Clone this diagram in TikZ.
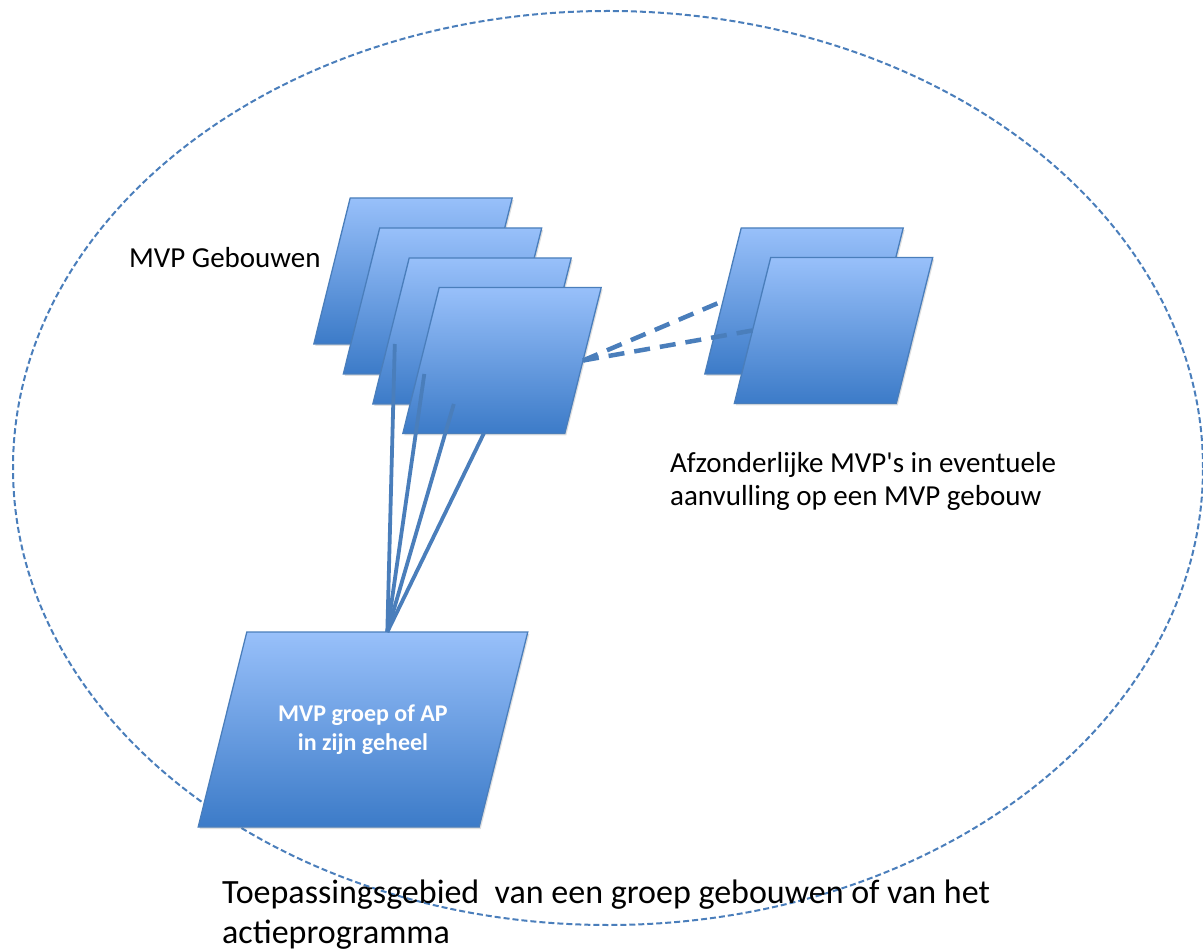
\documentclass[tikz,border=0pt]{standalone}
\usepackage{fontspec}
\setmainfont{Carlito}
\usetikzlibrary{shapes.geometric,shadows}
\definecolor{edge}{RGB}{74,126,187}
\definecolor{topc}{RGB}{152,192,250}
\definecolor{botc}{RGB}{60,123,200}
\tikzset{
  plate/.style={trapezium, trapezium left angle=76, trapezium right angle=104,
    trapezium stretches=false, minimum width=0pt, minimum height=0pt,
    inner xsep=62.8pt, inner ysep=73pt, outer sep=0pt, draw=edge, line width=1.3pt,
    top color=topc, bottom color=botc,
    drop shadow={opacity=0.25, shadow xshift=1.5pt, shadow yshift=-2pt}},
  bigplate/.style={plate, inner xsep=116.2pt, inner ysep=97.5pt},
  link/.style={draw=edge, line width=3.8pt},
  dlink/.style={draw=edge, line width=4.5pt, dash pattern=on 16pt off 10pt},
  scope/.style={draw=edge, line width=2pt, dash pattern=on 6pt off 3pt},
  lbl/.style={inner sep=0pt, text=black}
}
\begin{document}
\begin{tikzpicture}[x=1pt, y=-1pt]
\useasboundingbox (0,0) rectangle (1203,949);
\draw[scope] (608,468) ellipse [x radius=595pt, y radius=457pt];

\node[plate] (p1) at (413,271) {};
\node[plate] (p2) at (442.5,301) {};
\node[plate] (p3) at (472,331) {};
\node[plate] (p4) at (502,360.5) {};

\node[plate] (p5) at (804,301) {};
\node[plate] (p6) at (833.5,330.5) {};

\node[bigplate] (p0) at (363,729.5) {};
\node[lbl, text=white, font=\fontsize{24}{29}\selectfont\bfseries, align=center] (p0t) at (p0.center) {MVP groep of AP\\in zijn geheel};

\draw[link] (p0.top side) -- (p1.bottom side);
\draw[link] (p0.top side) -- (p2.bottom side);
\draw[link] (p0.top side) -- (p3.bottom side);
\draw[link] (p0.top side) -- (p4.bottom side);

\draw[dlink] (p4.right side) -- (p5.left side);
\draw[dlink] (p4.right side) -- (p6.left side);

\node[lbl, font=\fontsize{29}{34}\selectfont, anchor=base west] (ta) at (129,268) {MVP Gebouwen};
\node[lbl, font=\fontsize{29}{33}\selectfont, anchor=north west, align=left] (tb) at (670,452) {Afzonderlijke MVP\textquotesingle s in eventuele\\aanvulling op een MVP gebouw};
\node[lbl, font=\fontsize{34}{40}\selectfont, anchor=north west, align=left] (tc) at (222,880) {Toepassingsgebied\ \ van een groep gebouwen of van het\\actieprogramma};
\end{tikzpicture}
\end{document}
